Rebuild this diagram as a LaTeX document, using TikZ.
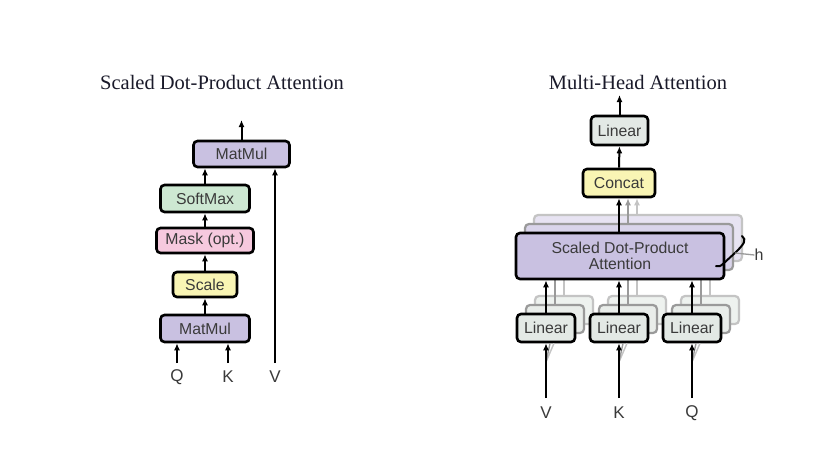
\documentclass[tikz,border=0pt]{standalone}
\usepackage{fontspec}
\setmainfont{Liberation Serif}
\setsansfont{Liberation Sans}
\usetikzlibrary{arrows.meta}
\definecolor{cpurple}{HTML}{C9C1E1}
\definecolor{cgreen}{HTML}{CDE8D2}
\definecolor{cpink}{HTML}{F6C9DE}
\definecolor{cyellow}{HTML}{F9F5B4}
\definecolor{cgrey}{HTML}{E3E9E5}
\definecolor{ctext}{HTML}{3A3A3A}
\definecolor{ctitle}{HTML}{1A1A2A}
\definecolor{sh1}{HTML}{9A9A9A}
\definecolor{sh2}{HTML}{C4C4C4}
\tikzset{
  box/.style={draw=black, line width=2.6pt, rounded corners=4pt, inner sep=0pt,
    font=\sffamily\fontsize{15.8}{16.5}\selectfont, text=ctext, align=center},
  shbox/.style={draw=#1, line width=2.2pt, rounded corners=4pt, inner sep=0pt},
  arr/.style={line width=2pt, -{Latex[length=7pt,width=6pt]}},
  garr/.style={line width=1.8pt, draw=#1, -{Latex[length=7pt,width=6pt]}},
  gline/.style={line width=1.8pt, draw=#1},
  lab/.style={font=\sffamily\fontsize{17}{17}\selectfont, text=ctext, inner sep=0pt},
  ttl/.style={font=\fontsize{20.5}{21}\selectfont, text=ctitle, inner sep=0pt}
}
\begin{document}
\begin{tikzpicture}[x=1pt,y=-1pt]
\useasboundingbox[fill=white] (0,0) rectangle (815,451);

% ---------------- Left: Scaled Dot-Product Attention
\node[ttl] (t1) at (222,82) {Scaled Dot-Product Attention};
\node[box, fill=cpurple, minimum width=96pt, minimum height=26pt] (mm2) at (241.5,154) {MatMul};
\node[box, fill=cgreen, minimum width=89pt, minimum height=27pt] (sm) at (205,198.5) {SoftMax};
\node[box, fill=cpink, minimum width=97pt, minimum height=25pt] (mask) at (205,240.5) {Mask (opt.)};
\node[box, fill=cyellow, minimum width=64pt, minimum height=25pt] (scale) at (205,284.5) {Scale};
\node[box, fill=cpurple, minimum width=89pt, minimum height=27pt] (mm1) at (205,328.5) {MatMul};
\node[lab] (q) at (177,377) {Q};
\node[lab] (k) at (228,377) {K};
\node[lab] (v) at (275,377) {V};
\coordinate (qin) at (177,363);
\coordinate (kin) at (228,363);
\coordinate (vin) at (275,363);
\coordinate (out1) at (241.5,120);
\draw[arr] (qin) -- (qin |- mm1.south);
\draw[arr] (kin) -- (kin |- mm1.south);
\draw[arr] (vin) -- (vin |- mm2.south);
\draw[arr] (mm1.north) -- (scale.south);
\draw[arr] (scale.north) -- (mask.south);
\draw[arr] (mask.north) -- (sm.south);
\draw[arr] (sm.north) -- (sm.north |- mm2.south);
\draw[arr] (mm2.north) -- (out1);

% ---------------- Right: Multi-Head Attention
\node[ttl] (t2) at (638,82) {Multi-Head Attention};

% shadow layer 2 (farthest)
\node[shbox=sh2, fill=cpurple!45, minimum width=208pt, minimum height=46pt] (sd2) at (638,238) {};
\foreach \n/\x in {v2/546,k2/619,q2/692}
  \node[shbox=sh2, fill=cgrey!60, minimum width=58pt, minimum height=28pt] (l\n) at (\x+18,310) {};
\draw[gline=sh2] (lv2.north) -- (lv2.north |- sd2.south);
\draw[gline=sh2] (lk2.north) -- (lk2.north |- sd2.south);
\draw[gline=sh2] (lq2.north) -- (lq2.north |- sd2.south);

% shadow layer 1
\node[shbox=sh1, fill=cpurple!70, minimum width=208pt, minimum height=46pt] (sd1) at (629,247) {};
\foreach \n/\x in {v1/546,k1/619,q1/692}
  \node[shbox=sh1, fill=cgrey!80, minimum width=58pt, minimum height=28pt] (l\n) at (\x+9,319) {};
\draw[gline=sh1] (lv1.north) -- (lv1.north |- sd1.south);
\draw[gline=sh1] (lk1.north) -- (lk1.north |- sd1.south);
\draw[gline=sh1] (lq1.north) -- (lq1.north |- sd1.south);

% main boxes
\node[box, fill=cpurple, minimum width=208pt, minimum height=46pt] (sdpa) at (620,256) {Scaled Dot-Product\\Attention};
\node[box, fill=cgrey, minimum width=58pt, minimum height=28pt] (lv) at (546,328) {Linear};
\node[box, fill=cgrey, minimum width=58pt, minimum height=28pt] (lk) at (619,328) {Linear};
\node[box, fill=cgrey, minimum width=58pt, minimum height=28pt] (lq) at (692,328) {Linear};
\node[box, fill=cyellow, minimum width=72pt, minimum height=28pt] (concat) at (619,183) {Concat};
\node[box, fill=cgrey, minimum width=57pt, minimum height=29pt] (lin) at (619.5,130.5) {Linear};

\node[lab] (mv) at (546,413) {V};
\node[lab] (mk) at (619,413) {K};
\node[lab] (mq) at (692,413) {Q};
\coordinate (vin2) at (546,398);
\coordinate (kin2) at (619,398);
\coordinate (qin2) at (692,398);
\coordinate (vsp) at (546,362);
\coordinate (ksp) at (619,362);
\coordinate (qsp) at (692,362);
\coordinate (out2) at (619.5,95);

% fan-out hints to the shadow copies
\foreach \s/\c in {vsp/lv,ksp/lk,qsp/lq}{
  \draw[gline=sh2, line width=1.4pt] (\s) -- ([xshift=8pt]\c.south);
  \draw[gline=sh1, line width=1.4pt] (\s) -- ([xshift=4pt]\c.south);
}

\draw[arr] (vin2) -- (lv.south);
\draw[arr] (kin2) -- (lk.south);
\draw[arr] (qin2) -- (lq.south);
\draw[arr] (lv.north) -- (lv.north |- sdpa.south);
\draw[arr] (lk.north) -- (lk.north |- sdpa.south);
\draw[arr] (lq.north) -- (lq.north |- sdpa.south);
\draw[garr=sh2] (sd2.north -| 637,0) -- (637,0 |- concat.south);
\draw[garr=sh1] (sd1.north -| 628,0) -- (628,0 |- concat.south);
\draw[arr] (sdpa.north -| concat.south) -- (concat.south);
\draw[arr] (concat.north) -- (lin.south);
\draw[arr] (lin.north) -- (out2);

% h brace
\coordinate (bt) at (742,236);
\coordinate (bb) at (716,266);
\draw[line width=2pt, line cap=round] (bt) .. controls (747,240) and (744,244) .. (736,252)
  -- (724,263) .. controls (721,266) and (719,267) .. (bb);
\node[lab, font=\sffamily\fontsize{16}{16}\selectfont] (h) at (759,255) {h};
\draw[line width=1.3pt, draw=sh1] (735,253) -- (h.west);
\end{tikzpicture}
\end{document}
